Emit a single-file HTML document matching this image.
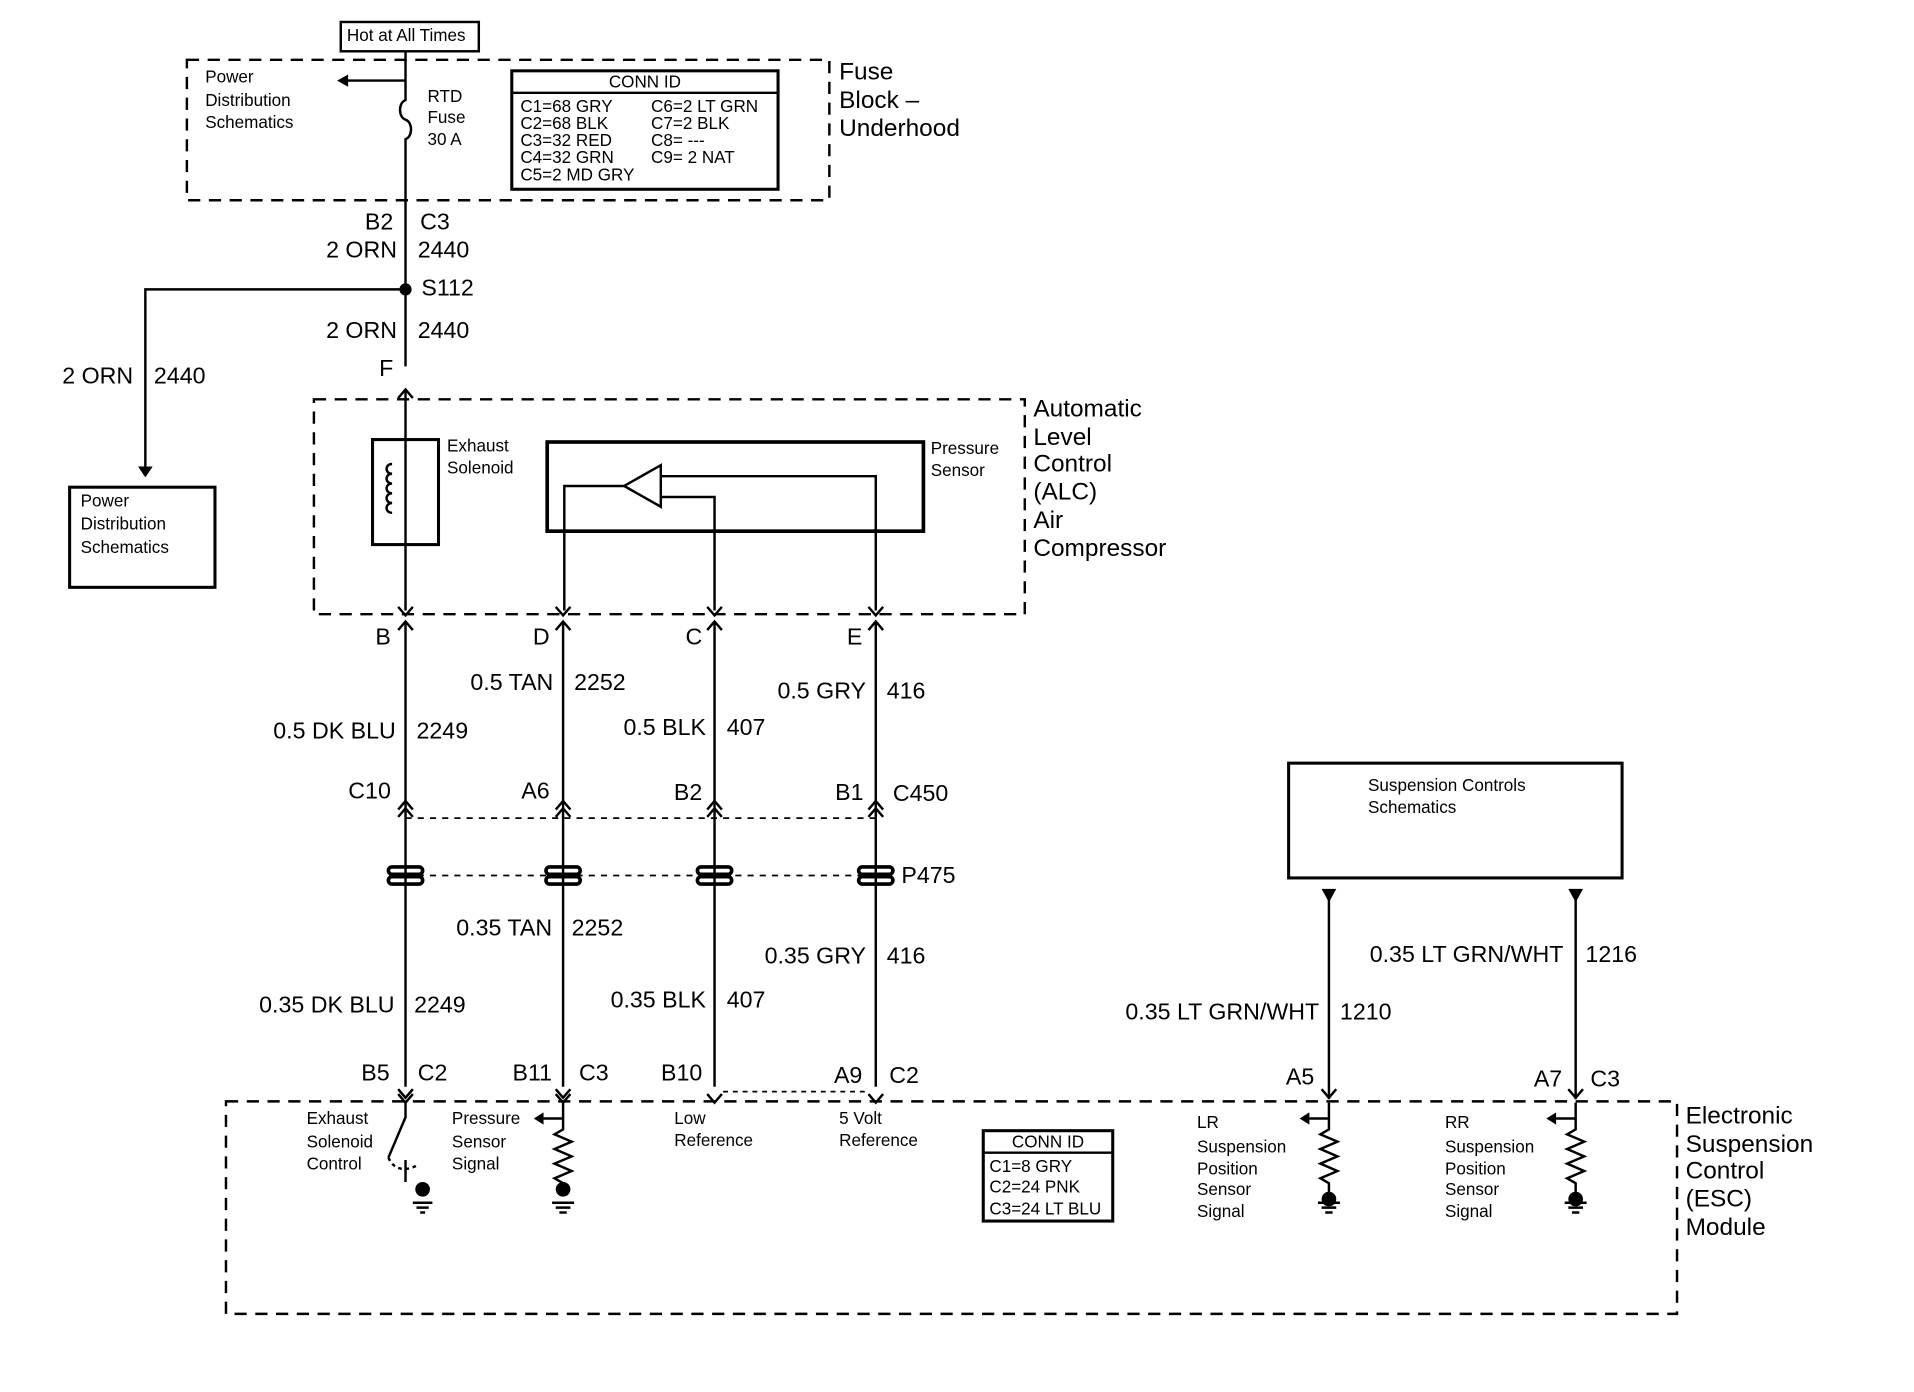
<!DOCTYPE html>
<html><head><meta charset="utf-8"><style>
html,body{margin:0;padding:0;background:#fff}
svg{display:block}
text{font-family:"Liberation Sans",Arial,sans-serif;fill:#000;dominant-baseline:middle}
.s{font-size:14px}.m{font-size:19px}.l{font-size:20px}
.e{text-anchor:end}
</style></head><body>
<svg width="1914" height="1392" viewBox="0 0 1567 1140" preserveAspectRatio="none" xmlns="http://www.w3.org/2000/svg">
<g fill="none" stroke="#000" stroke-width="2">
<rect x="279" y="18" width="113" height="24"/>
<rect x="153" y="49" width="526" height="115" stroke-dasharray="10,7"/>
<rect x="419" y="58" width="218" height="97" stroke-width="2.5"/>
<line x1="419" y1="76" x2="637" y2="76"/>
<path d="M332 42V72 M332 66H282 M332 72V82 c-6 2 -6 14 0 16 c6 2 6 14 0 16 V300"/>
<path d="M332 237H119V388"/>
<path d="M332 320V500"/>
<path d="M326 326l6-7 6 7"/>
<rect x="57" y="399" width="119" height="82" stroke-width="2.5"/>
<rect x="257" y="327" width="582" height="176" stroke-dasharray="10,7"/>
<rect x="305" y="360" width="54" height="86" stroke-width="2.5"/>
<path d="M321 380c-6 0-6 8 0 8c-6 0-6 8 0 8c-6 0-6 8 0 8c-6 0-6 8 0 8c-6 0-6 8 0 8"/>
<rect x="448" y="362" width="308" height="73" stroke-width="3"/>
<path d="M511 398L541 381V415Z M511 398H462V500 M541 407H585V500 M541 390H717V500"/>
<path d="M332 510V890 M461 510V890 M585 510V890 M717 510V890"/>
<path d="M592 894H710" stroke-dasharray="4,4" stroke-width="1.5"/>
<path d="M332 670H717" stroke-dasharray="5,5" stroke-width="1.5"/>
<path d="M332 717H717" stroke-dasharray="5,5" stroke-width="1.5"/>
<g stroke-width="2">
<path d="M326 497l6 7 6-7 M455 497l6 7 6-7 M579 497l6 7 6-7 M711 497l6 7 6-7"/>
<path d="M326 516l6-7 6 7 M455 516l6-7 6 7 M579 516l6-7 6 7 M711 516l6-7 6 7"/>
<path d="M326 663l6-7 6 7 M455 663l6-7 6 7 M579 663l6-7 6 7 M711 663l6-7 6 7"/>
<path d="M326 669l6-7 6 7 M455 669l6-7 6 7 M579 669l6-7 6 7 M711 669l6-7 6 7"/>
<path d="M326 896l6 7 6-7 M455 896l6 7 6-7 M579 896l6 7 6-7 M711 896l6 7 6-7"/>
<path d="M326 892l6 7 6-7 M455 892l6 7 6-7 M1082 892l6 7 6-7 M1284 892l6 7 6-7"/>
</g>
<g stroke-width="3">
<rect x="318" y="710" width="28" height="6" rx="3"/><rect x="318" y="718" width="28" height="6" rx="3"/>
<rect x="447" y="710" width="28" height="6" rx="3"/><rect x="447" y="718" width="28" height="6" rx="3"/>
<rect x="571" y="710" width="28" height="6" rx="3"/><rect x="571" y="718" width="28" height="6" rx="3"/>
<rect x="703" y="710" width="28" height="6" rx="3"/><rect x="703" y="718" width="28" height="6" rx="3"/>
</g>
<rect x="1055" y="625" width="273" height="94" stroke-width="2.5"/>
<path d="M1088 730V900 M1290 730V900"/>
<rect x="185" y="902" width="1188" height="174" stroke-dasharray="10,7"/>
<path d="M332 903V915 L318 948 M332 950V968"/>
<path d="M318 948c4 10 14 12 24 6" stroke-dasharray="3,3"/>
<path d="M461 903V925l-7 4 14 6-14 6 14 6-14 6 14 6-14 6 7 4V978 M461 916H445"/>
<path d="M1088 903V925l-7 4 14 6-14 6 14 6-14 6 14 6-14 6 7 4V978 M1088 916H1072"/>
<path d="M1290 903V925l-7 4 14 6-14 6 14 6-14 6 14 6-14 6 7 4V978 M1290 916H1274"/>
<path d="M338 985h16 M341 989h10 M344 993h4 M452 985h18 M455 989h12 M458 993h6 M1079 985h18 M1082 989h12 M1085 993h6 M1281 985h18 M1284 989h12 M1287 993h6"/>
<rect x="805" y="926" width="106" height="74" stroke-width="2.5"/>
<line x1="805" y1="944" x2="911" y2="944"/>
</g>
<g fill="#000">
<circle cx="332" cy="237" r="5"/>
<path d="M276 66l9-5v10z"/>
<path d="M113 382h12l-6 9z"/>
<circle cx="346" cy="974" r="6"/><circle cx="461" cy="974" r="6"/><circle cx="1088" cy="982" r="6"/><circle cx="1290" cy="982" r="6"/>
<path d="M1082 728h12l-6 11z M1284 728h12l-6 11z"/>
<path d="M445 911v10l-8-5z M1072 911v10l-8-5z M1274 911v10l-8-5z"/>
</g>
<text x="284" y="30" class="s">Hot at All Times</text>
<text x="168" y="64" class="s">Power</text><text x="168" y="83" class="s">Distribution</text><text x="168" y="101" class="s">Schematics</text>
<text x="350" y="80" class="s">RTD</text><text x="350" y="97" class="s">Fuse</text><text x="350" y="115" class="s">30 A</text>
<text x="528" y="68" class="s" style="text-anchor:middle">CONN ID</text>
<text x="426" y="88" class="s">C1=68 GRY</text><text x="426" y="102" class="s">C2=68 BLK</text><text x="426" y="116" class="s">C3=32 RED</text><text x="426" y="130" class="s">C4=32 GRN</text><text x="426" y="144" class="s">C5=2 MD GRY</text>
<text x="533" y="88" class="s">C6=2 LT GRN</text><text x="533" y="102" class="s">C7=2 BLK</text><text x="533" y="116" class="s">C8= ---</text><text x="533" y="130" class="s">C9= 2 NAT</text>
<text x="687" y="60" class="l">Fuse</text><text x="687" y="83" class="l">Block –</text><text x="687" y="106" class="l">Underhood</text>
<text x="322" y="183" class="m e">B2</text><text x="344" y="183" class="m">C3</text>
<text x="325" y="206" class="m e">2 ORN</text><text x="342" y="206" class="m">2440</text>
<text x="345" y="237" class="m">S112</text>
<text x="325" y="272" class="m e">2 ORN</text><text x="342" y="272" class="m">2440</text>
<text x="322" y="303" class="m e">F</text>
<text x="109" y="309" class="m e">2 ORN</text><text x="126" y="309" class="m">2440</text>
<text x="66" y="411" class="s">Power</text><text x="66" y="430" class="s">Distribution</text><text x="66" y="449" class="s">Schematics</text>
<text x="846" y="336" class="l">Automatic</text><text x="846" y="359" class="l">Level</text><text x="846" y="381" class="l">Control</text><text x="846" y="404" class="l">(ALC)</text><text x="846" y="427" class="l">Air</text><text x="846" y="450" class="l">Compressor</text>
<text x="366" y="366" class="s">Exhaust</text><text x="366" y="384" class="s">Solenoid</text>
<text x="762" y="368" class="s">Pressure</text><text x="762" y="386" class="s">Sensor</text>
<text x="320" y="523" class="m e">B</text><text x="450" y="523" class="m e">D</text><text x="575" y="523" class="m e">C</text><text x="706" y="523" class="m e">E</text>
<text x="453" y="560" class="m e">0.5 TAN</text><text x="470" y="560" class="m">2252</text>
<text x="324" y="600" class="m e">0.5 DK BLU</text><text x="341" y="600" class="m">2249</text>
<text x="578" y="597" class="m e">0.5 BLK</text><text x="595" y="597" class="m">407</text>
<text x="709" y="567" class="m e">0.5 GRY</text><text x="726" y="567" class="m">416</text>
<text x="320" y="649" class="m e">C10</text><text x="450" y="649" class="m e">A6</text><text x="575" y="650" class="m e">B2</text><text x="707" y="650" class="m e">B1</text><text x="731" y="651" class="m">C450</text>
<text x="738" y="718" class="m">P475</text>
<text x="452" y="761" class="m e">0.35 TAN</text><text x="468" y="761" class="m">2252</text>
<text x="323" y="824" class="m e">0.35 DK BLU</text><text x="339" y="824" class="m">2249</text>
<text x="578" y="820" class="m e">0.35 BLK</text><text x="595" y="820" class="m">407</text>
<text x="709" y="784" class="m e">0.35 GRY</text><text x="726" y="784" class="m">416</text>
<text x="319" y="880" class="m e">B5</text><text x="342" y="880" class="m">C2</text>
<text x="452" y="880" class="m e">B11</text><text x="474" y="880" class="m">C3</text>
<text x="575" y="880" class="m e">B10</text>
<text x="706" y="882" class="m e">A9</text><text x="728" y="882" class="m">C2</text>
<text x="1076" y="883" class="m e">A5</text>
<text x="1279" y="885" class="m e">A7</text><text x="1302" y="885" class="m">C3</text>
<text x="1120" y="644" class="s">Suspension Controls</text><text x="1120" y="662" class="s">Schematics</text>
<text x="1080" y="830" class="m e">0.35 LT GRN/WHT</text><text x="1097" y="830" class="m">1210</text>
<text x="1280" y="783" class="m e">0.35 LT GRN/WHT</text><text x="1298" y="783" class="m">1216</text>
<text x="1380" y="915" class="l">Electronic</text><text x="1380" y="938" class="l">Suspension</text><text x="1380" y="960" class="l">Control</text><text x="1380" y="983" class="l">(ESC)</text><text x="1380" y="1006" class="l">Module</text>
<text x="251" y="917" class="s">Exhaust</text><text x="251" y="936" class="s">Solenoid</text><text x="251" y="954" class="s">Control</text>
<text x="370" y="917" class="s">Pressure</text><text x="370" y="936" class="s">Sensor</text><text x="370" y="954" class="s">Signal</text>
<text x="552" y="917" class="s">Low</text><text x="552" y="935" class="s">Reference</text>
<text x="687" y="917" class="s">5 Volt</text><text x="687" y="935" class="s">Reference</text>
<text x="858" y="936" class="s" style="text-anchor:middle">CONN ID</text>
<text x="810" y="956" class="s">C1=8 GRY</text><text x="810" y="973" class="s">C2=24 PNK</text><text x="810" y="991" class="s">C3=24 LT BLU</text>
<text x="980" y="920" class="s">LR</text><text x="980" y="940" class="s">Suspension</text><text x="980" y="958" class="s">Position</text><text x="980" y="975" class="s">Sensor</text><text x="980" y="993" class="s">Signal</text>
<text x="1183" y="920" class="s">RR</text><text x="1183" y="940" class="s">Suspension</text><text x="1183" y="958" class="s">Position</text><text x="1183" y="975" class="s">Sensor</text><text x="1183" y="993" class="s">Signal</text>
</svg>
</body></html>
